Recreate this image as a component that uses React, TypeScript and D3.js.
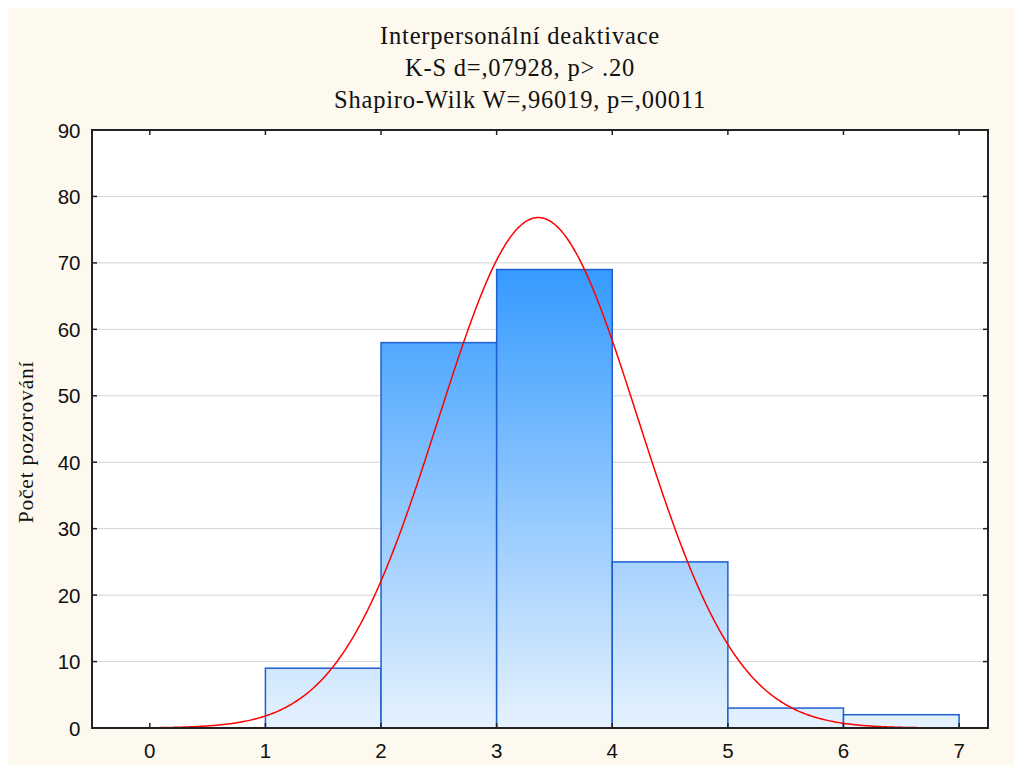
import React from "react";
import * as d3 from "d3";

const titleLines = [
  "Interpersonální deaktivace",
  "K-S d=,07928, p> .20",
  "Shapiro-Wilk W=,96019, p=,00011",
];
const yLabel = "Počet pozorování";
const binStarts = [1, 2, 3, 4, 5, 6];
const binCounts = [9, 58, 69, 25, 3, 2];
const xTicks = [0, 1, 2, 3, 4, 5, 6, 7];
const yTicks = [0, 10, 20, 30, 40, 50, 60, 70, 80, 90];
const fitMean = 3.36;
const fitSd = 0.862;

const W = 1022;
const H = 765;
const OFF = 8;
const left = 92 - OFF;
const right = 988 - OFF;
const top = 130 - OFF;
const bottom = 728 - OFF;

export default function App() {
  const x = d3.scaleLinear().domain([-0.5, 7.25]).range([left, right]);
  const y = d3.scaleLinear().domain([0, 90]).range([bottom, top]);
  const n = d3.sum(binCounts);
  const pdf = (v: number) =>
    (n * 1) / (fitSd * Math.sqrt(2 * Math.PI)) * Math.exp(-0.5 * ((v - fitMean) / fitSd) ** 2);
  const pts = d3.range(-0.5, 7.2501, 0.01).map((v) => [v, pdf(v)] as [number, number]);
  const line = d3
    .line<[number, number]>()
    .x((d) => x(d[0]))
    .y((d) => y(d[1]))
    .curve(d3.curveLinear);

  return (
    <svg width={W} height={H} style={{ display: "block" }}>
      <defs>
        <linearGradient id="barGrad" gradientUnits="userSpaceOnUse" x1={0} x2={0} y1={y(0)} y2={y(70)}>
          <stop offset="0" stopColor="#e6f2fe" />
          <stop offset="1" stopColor="#3399ff" />
        </linearGradient>
        <clipPath id="plotClip">
          <rect x={left} y={top} width={right - left} height={bottom - top} />
        </clipPath>
      </defs>
      <rect x={0} y={0} width={W} height={H} fill="#fdf9ef" />
      <rect x={left} y={top} width={right - left} height={bottom - top} fill="#ffffff" />
      {yTicks.slice(1, -1).map((t) => (
        <line key={"g" + t} x1={left} x2={right} y1={y(t)} y2={y(t)} stroke="#d4d4d4" strokeWidth={1} />
      ))}
      {binStarts.map((b, i) => (
        <rect
          key={"b" + b}
          x={x(b)}
          y={y(binCounts[i])}
          width={x(b + 1) - x(b)}
          height={y(0) - y(binCounts[i])}
          fill="url(#barGrad)"
          stroke="#1f5fcf"
          strokeWidth={1.5}
        />
      ))}
      <path d={line(pts) || ""} fill="none" stroke="#ff0000" strokeWidth={1.5} clipPath="url(#plotClip)" />
      {xTicks.map((t) => (
        <g key={"xt" + t}>
          <line x1={x(t)} x2={x(t)} y1={bottom} y2={bottom - 5} stroke="#222" strokeWidth={1.5} />
          <line x1={x(t)} x2={x(t)} y1={top} y2={top + 5} stroke="#222" strokeWidth={1.5} />
          <text
            x={x(t)}
            y={bottom + 30}
            textAnchor="middle"
            fontFamily="Liberation Sans, Arial, sans-serif"
            fontSize={20.5}
            fill="#111"
          >
            {t}
          </text>
        </g>
      ))}
      {yTicks.map((t) => (
        <g key={"yt" + t}>
          <line x1={left} x2={left + 5} y1={y(t)} y2={y(t)} stroke="#222" strokeWidth={1.5} />
          <line x1={right} x2={right - 5} y1={y(t)} y2={y(t)} stroke="#222" strokeWidth={1.5} />
          <text
            x={left - 11.5}
            y={y(t) + 7.5}
            textAnchor="end"
            fontFamily="Liberation Sans, Arial, sans-serif"
            fontSize={20.5}
            fill="#111"
          >
            {t}
          </text>
        </g>
      ))}
      <rect x={left} y={top} width={right - left} height={bottom - top} fill="none" stroke="#222" strokeWidth={2} />
      {titleLines.map((s, i) => (
        <text
          key={"t" + i}
          x={520 - OFF}
          y={44 - OFF + i * 32}
          textAnchor="middle"
          fontFamily="Liberation Serif, Times New Roman, serif"
          fontSize={24.5}
          letterSpacing={0.8}
          fill="#111"
        >
          {s}
        </text>
      ))}
      <text
        transform={`translate(${33 - OFF},${442 - OFF}) rotate(-90)`}
        textAnchor="middle"
        fontFamily="Liberation Serif, Times New Roman, serif"
        fontSize={21.5}
        letterSpacing={0.8}
        fill="#111"
      >
        {yLabel}
      </text>
    </svg>
  );
}
